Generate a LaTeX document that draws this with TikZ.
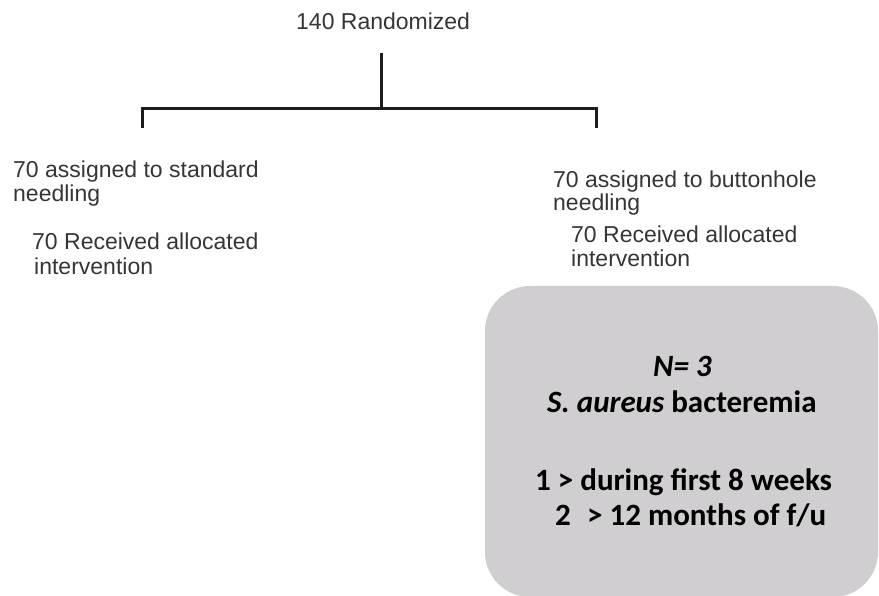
\documentclass[tikz,border=0pt]{standalone}
\usepackage{fontspec}
\setmainfont{Liberation Sans}
\newfontfamily\boxfont{Carlito}
\definecolor{txtgray}{HTML}{353535}
\definecolor{linegray}{HTML}{1C1C1C}
\definecolor{boxgray}{HTML}{D0CED0}
\begin{document}
\begin{tikzpicture}[x=1pt,y=-1pt,
  flowtxt/.style={inner sep=0pt, anchor=base west, text=txtgray, font=\fontsize{23}{27}\selectfont},
  boxtxt/.style={inner sep=0pt, anchor=base west, text=black, font=\boxfont\bfseries\fontsize{31}{37}\selectfont},
  bracket/.style={draw=linegray, line width=3pt}]
\useasboundingbox (0,0) rectangle (879,596);
% gray box
\path[fill=boxgray, rounded corners=45pt] (485,286) rectangle (878,597);
% texts
\node[flowtxt] (rand) at (296,30) {140 Randomized};
\node[flowtxt] (l1) at (13,178) {70 assigned to standard};
\node[flowtxt] (l2) at (13,202) {needling};
\node[flowtxt] (l3) at (32,250) {70 Received allocated};
\node[flowtxt] (l4) at (34,275) {intervention};
\node[flowtxt] (r1) at (553,188) {70 assigned to buttonhole};
\node[flowtxt] (r2) at (553,211) {needling};
\node[flowtxt] (r3) at (571,243) {70 Received allocated};
\node[flowtxt] (r4) at (571,267) {intervention};
% box texts
\node[boxtxt] (b1) at (653,377) {\itshape N= 3};
\node[boxtxt] (b2) at (547,412) {\itshape S. aureus\upshape{} bacteremia};
\node[boxtxt] (b3) at (535,490) {1 > during first 8 weeks};
\node[boxtxt] (b4) at (555,525) {2\hspace{0.3em} > 12 months of f/u};
% bracket connectors
\coordinate (top) at (381,53);
\coordinate (j) at (381,109);
\coordinate (lb) at (142,128);
\coordinate (rb) at (596,128);
\draw[bracket] (top) -- (j);
\draw[bracket] (lb) |- (j) -| (rb);
\end{tikzpicture}
\end{document}
